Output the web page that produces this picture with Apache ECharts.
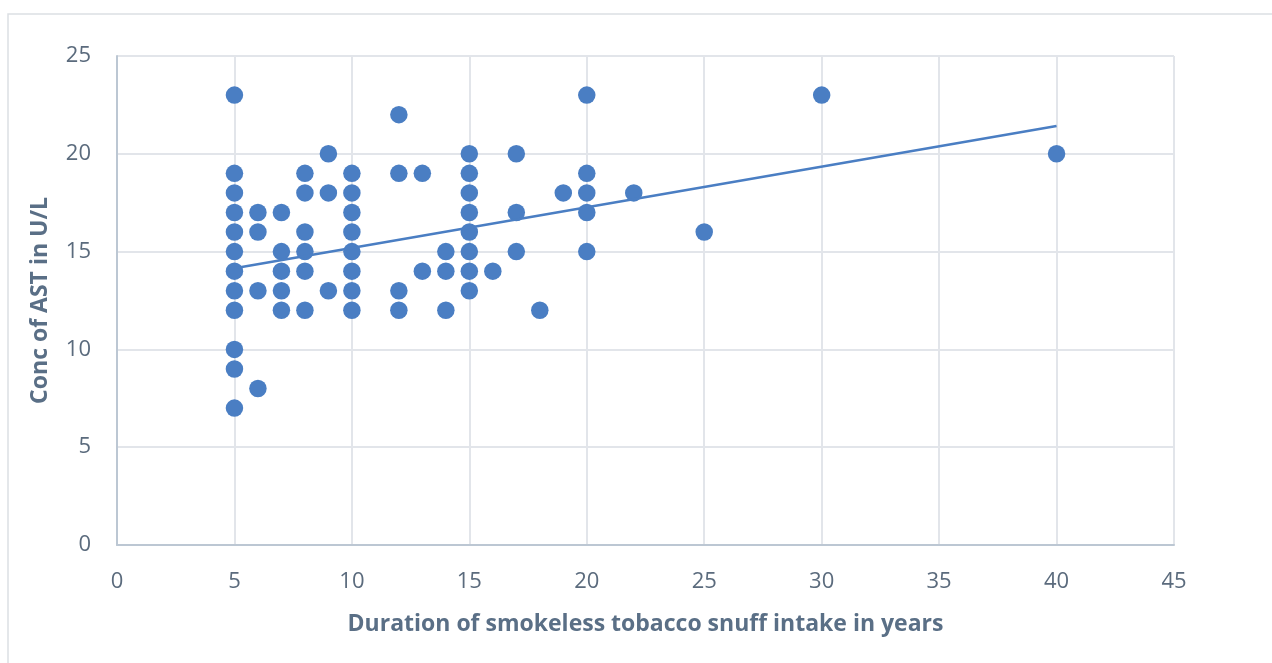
<!DOCTYPE html>
<html>
<head>
<meta charset="utf-8">
<script src="https://cdn.jsdelivr.net/npm/echarts@6/dist/echarts.min.js"></script>
<style>
  html, body { margin: 0; padding: 0; background: #ffffff; }
  #chart { width: 1272px; height: 663px; }
</style>
</head>
<body>
<div id="chart"></div>
<script>
// Duration of snuff use (years) and the AST readings at each duration
const durations = [5, 6, 7, 8, 9, 10, 12, 13, 14, 15, 16, 17, 18, 19, 20, 22, 25, 30, 40];
const astByDuration = [
  [23, 19, 18, 17, 16, 15, 14, 13, 12, 10, 9, 7],
  [17, 16, 13, 8],
  [17, 15, 14, 13, 12],
  [19, 18, 16, 15, 14, 12],
  [20, 18, 13],
  [19, 18, 17, 16, 15, 14, 13, 12],
  [22, 19, 13, 12],
  [19, 14],
  [15, 14, 12],
  [20, 19, 18, 17, 16, 15, 14, 13],
  [14],
  [20, 17, 15],
  [12],
  [18],
  [23, 19, 18, 17, 15],
  [18],
  [16],
  [23],
  [20]
];

// Linear trend line endpoints
const trendX = [5, 40];
const trendY = [14.15, 21.42];

// Axis ticks
const xTicks = [0, 5, 10, 15, 20, 25, 30, 35, 40, 45];
const yTicks = [0, 5, 10, 15, 20, 25];

const xTitle = 'Duration of smokeless tobacco snuff intake in years';
const yTitle = 'Conc of AST in U/L';

const points = [];
durations.forEach((d, i) => astByDuration[i].forEach(v => points.push([d, v])));
const trend = trendX.map((x, i) => [x, trendY[i]]);

const blue = '#4a7ec3';
const labelColor = '#5b6b7d';
const titleColor = '#5a6f86';
const gridColor = '#e2e5ea';
const axisColor = '#bcc7d3';
const font = 'Open Sans';

const chart = echarts.init(document.getElementById('chart'), null, { renderer: 'canvas' });
chart.setOption({
  animation: false,
  backgroundColor: '#ffffff',
  graphic: [{
    type: 'rect',
    shape: { x: 8, y: 14, width: 1300, height: 700 },
    style: { fill: 'none', stroke: '#dcdfe3', lineWidth: 1.5 },
    silent: true,
    z: -1
  }],
  grid: { left: 117, right: 98, top: 56, bottom: 118, containLabel: false },
  xAxis: {
    type: 'value',
    min: xTicks[0],
    max: xTicks[xTicks.length - 1],
    interval: xTicks[1] - xTicks[0],
    name: xTitle,
    nameLocation: 'middle',
    nameGap: 68,
    nameTextStyle: { fontFamily: font, fontSize: 23, fontWeight: 'bold', color: titleColor },
    axisLine: { show: true, lineStyle: { color: axisColor, width: 2 } },
    axisTick: { show: false },
    axisLabel: { fontFamily: font, fontSize: 22, color: labelColor, margin: 26 },
    splitLine: { show: true, lineStyle: { color: gridColor, width: 2 } }
  },
  yAxis: {
    type: 'value',
    min: yTicks[0],
    max: yTicks[yTicks.length - 1],
    interval: yTicks[1] - yTicks[0],
    name: yTitle,
    nameLocation: 'middle',
    nameGap: 65,
    nameRotate: 90,
    nameTextStyle: { fontFamily: font, fontSize: 23, fontWeight: 'bold', color: titleColor },
    axisLine: { show: true, lineStyle: { color: axisColor, width: 2 } },
    axisTick: { show: false },
    axisLabel: { fontFamily: font, fontSize: 22, color: labelColor, margin: 26 },
    splitLine: { show: true, lineStyle: { color: gridColor, width: 2 } }
  },
  series: [
    {
      type: 'scatter',
      data: points,
      symbol: 'circle',
      symbolSize: 17.5,
      itemStyle: { color: blue, opacity: 1 },
      z: 3
    },
    {
      type: 'line',
      data: trend,
      symbol: 'none',
      lineStyle: { color: blue, width: 2.5 },
      z: 4
    }
  ]
});
</script>
</body>
</html>
